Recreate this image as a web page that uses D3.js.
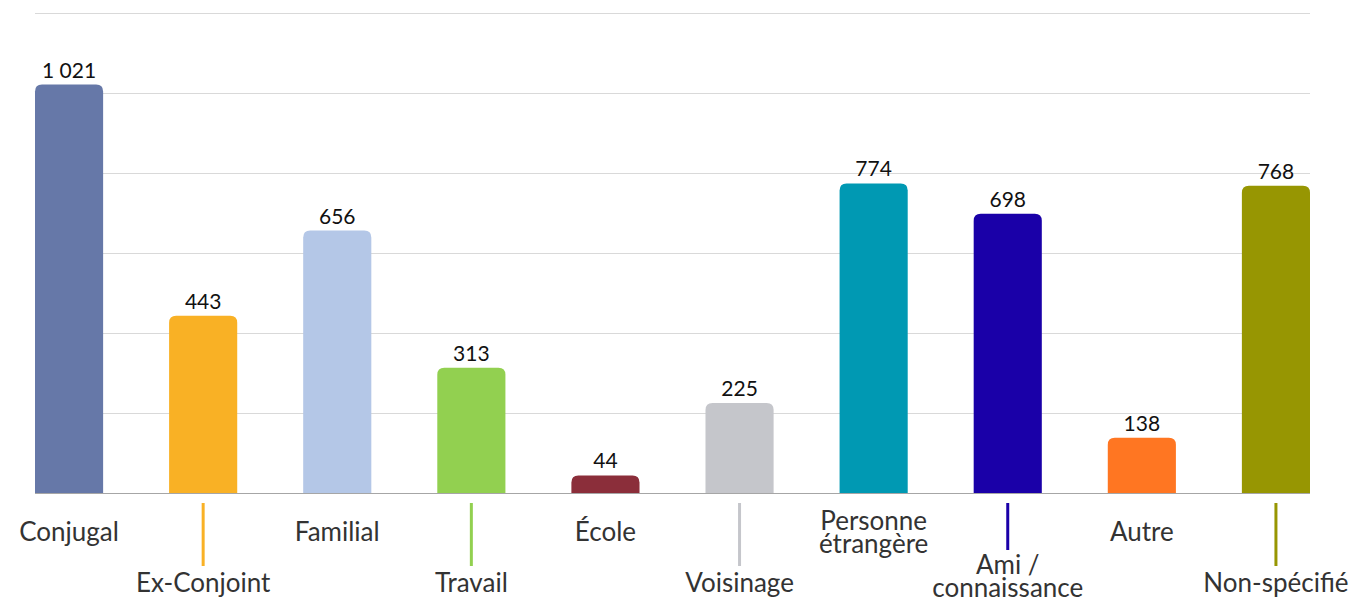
<!DOCTYPE html>
<html>
<head>
<meta charset="utf-8">
<script src="https://cdn.jsdelivr.net/npm/d3@7"></script>
<style>
  body { margin: 0; background: #fff; }
  text { font-family: "Source Sans Pro", Lato, "Noto Sans", sans-serif; }
</style>
</head>
<body>
<div id="chart-area"></div>
<script>
var categories = ["Conjugal", "Ex-Conjoint", "Familial", "Travail", "École", "Voisinage",
  "Personne étrangère", "Ami / connaissance", "Autre", "Non-spécifié"];
var labelLines = [["Conjugal"], ["Ex-Conjoint"], ["Familial"], ["Travail"], ["École"], ["Voisinage"],
  ["Personne", "étrangère"], ["Ami /", "connaissance"], ["Autre"], ["Non-spécifié"]];
var values = [1021, 443, 656, 313, 44, 225, 774, 698, 138, 768];
var colors = ["#6678a8", "#f9b125", "#b4c7e7", "#92d050", "#8b2e3a", "#c5c6cb",
  "#0099b3", "#1a00a8", "#ff7622", "#979602"];
var gridTicks = [0, 200, 400, 600, 800, 1000, 1200];

var width = 1364;
var height = 608;
var margin = { top: 13, right: 54, bottom: 115, left: 35 };
var chartWidth = width - margin.left - margin.right;
var chartHeight = height - margin.top - margin.bottom;

var data = categories.map((c, i) => ({ name: c, value: values[i], color: colors[i], lines: labelLines[i], i: i }));

var svg = d3.select("#chart-area")
  .append("svg")
  .attr("width", width)
  .attr("height", height);

var g = svg.append("g")
  .attr("transform", "translate(" + margin.left + ", " + margin.top + ")");

var x = d3.scaleBand()
  .domain(categories)
  .range([0, chartWidth])
  .paddingInner(0.492)
  .paddingOuter(0);

var y = d3.scaleLinear()
  .domain([0, 1200])
  .range([chartHeight, 0]);

// gridlines
g.selectAll(".grid")
  .data(gridTicks.slice(1)).enter()
  .append("line")
  .attr("x1", 0)
  .attr("x2", chartWidth)
  .attr("y1", d => y(d) + 0.5)
  .attr("y2", d => y(d) + 0.5)
  .attr("stroke", "#d9d9d9")
  .attr("stroke-width", 1);

// bars with rounded tops
var r = 7;
g.selectAll(".bar")
  .data(data).enter()
  .append("path")
  .attr("fill", d => d.color)
  .attr("d", d => {
    var x0 = x(d.name), x1 = x0 + x.bandwidth();
    var y0 = y(d.value), yb = y(0);
    var rr = Math.min(r, (yb - y0));
    return "M" + x0 + "," + yb +
      "V" + (y0 + rr) +
      "Q" + x0 + "," + y0 + " " + (x0 + rr) + "," + y0 +
      "H" + (x1 - rr) +
      "Q" + x1 + "," + y0 + " " + x1 + "," + (y0 + rr) +
      "V" + yb + "Z";
  });

// baseline
g.append("line")
  .attr("x1", 0)
  .attr("x2", chartWidth)
  .attr("y1", y(0) + 0.5)
  .attr("y2", y(0) + 0.5)
  .attr("stroke", "#a6a6a6")
  .attr("stroke-width", 1);

// value labels
g.selectAll(".value")
  .data(data).enter()
  .append("text")
  .attr("x", d => x(d.name) + x.bandwidth() / 2)
  .attr("y", d => y(d.value) - 7)
  .attr("text-anchor", "middle")
  .attr("font-size", "21px")
  .attr("fill", "#111")
  .text(d => d3.format(",")(d.value).replace(",", " "));

// staggered category labels
var labels = g.selectAll(".cat")
  .data(data).enter()
  .append("g")
  .attr("transform", d => "translate(" + (x(d.name) + x.bandwidth() / 2) + ",0)");

labels.filter(d => d.i % 2 === 1)
  .append("line")
  .attr("x1", 0).attr("x2", 0)
  .attr("y1", chartHeight + 10)
  .attr("y2", d => d.lines.length > 1 ? chartHeight + 57 : chartHeight + 73)
  .attr("stroke", d => d.color)
  .attr("stroke-width", 3);

labels.each(function(d) {
  var base = d.i % 2 === 0 ? chartHeight + 48 : chartHeight + 99;
  var n = d.lines.length;
  var grp = d3.select(this);
  d.lines.forEach((line, k) => {
    var off = n > 1 ? (d.i % 2 === 0 ? (k - 0.5) * 23 : (k - 1) * 23 + 5) : 0;
    grp.append("text")
      .attr("text-anchor", "middle")
      .attr("font-size", "26px")
      .attr("fill", "#333")
      .attr("x", 0)
      .attr("y", base + off)
      .text(line);
  });
});
</script>
</body>
</html>
